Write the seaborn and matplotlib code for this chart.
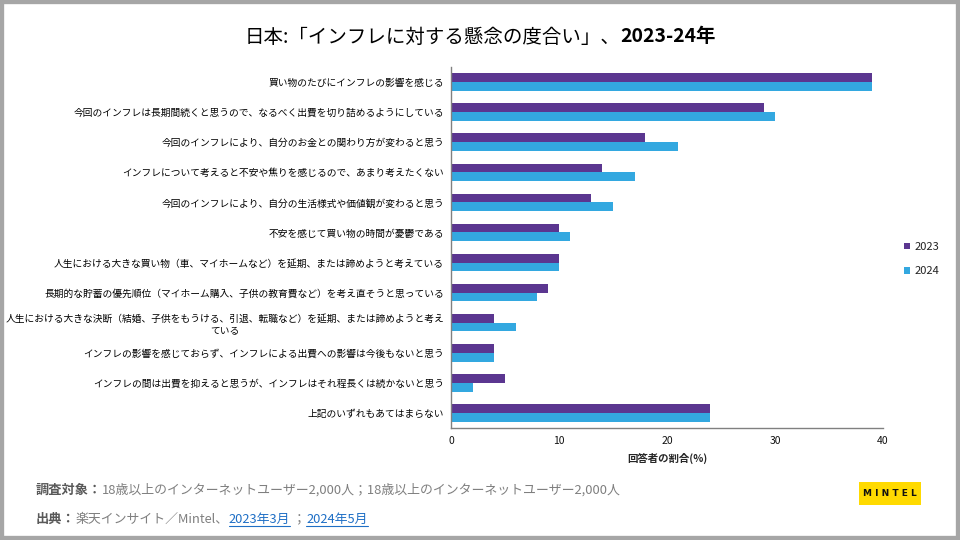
import numpy as np
import pandas as pd
import matplotlib
matplotlib.use("Agg")
import matplotlib.pyplot as plt
from matplotlib.patches import Rectangle
from matplotlib.lines import Line2D
import seaborn as sns

categories = [
    "買い物のたびにインフレの影響を感じる",
    "今回のインフレは長期間続くと思うので、なるべく出費を切り詰めるようにしている",
    "今回のインフレにより、自分のお金との関わり方が変わると思う",
    "インフレについて考えると不安や焦りを感じるので、あまり考えたくない",
    "今回のインフレにより、自分の生活様式や価値観が変わると思う",
    "不安を感じて買い物の時間が憂鬱である",
    "人生における大きな買い物（車、マイホームなど）を延期、または諦めようと考えている",
    "長期的な貯蓄の優先順位（マイホーム購入、子供の教育費など）を考え直そうと思っている",
    "人生における大きな決断（結婚、子供をもうける、引退、転職など）を延期、または諦めようと考え\nている",
    "インフレの影響を感じておらず、インフレによる出費への影響は今後もないと思う",
    "インフレの間は出費を抑えると思うが、インフレはそれ程長くは続かないと思う",
    "上記のいずれもあてはまらない",
]
values_2023 = [39, 29, 18, 14, 13, 10, 10, 9, 4, 4, 5, 24]
values_2024 = [39, 30, 21, 17, 15, 11, 10, 8, 6, 4, 2, 24]
years = ["2023", "2024"]
x_ticks = [0, 10, 20, 30, 40]

title_regular = "日本:「インフレに対する懸念の度合い」、"
title_bold = "2023-24年"
x_label = "回答者の割合(%)"
footer1_bold = "調査対象："
footer1_text = "18歳以上のインターネットユーザー2,000人；18歳以上のインターネットユーザー2,000人"
footer2_bold = "出典："
footer2_text = "楽天インサイト／Mintel、"
footer2_link1 = "2023年3月"
footer2_sep = " ；"
footer2_link2 = "2024年5月"

df = pd.DataFrame({
    "category": categories * 2,
    "value": values_2023 + values_2024,
    "year": [years[0]] * len(categories) + [years[1]] * len(categories),
})

sns.set_style("white")
plt.rcParams["font.family"] = ["Noto Sans CJK JP", "DejaVu Sans"]

fig = plt.figure(figsize=(9.6, 5.4), dpi=100)
fig.patch.set_facecolor("white")
ax = fig.add_axes([451 / 960, 1 - 428 / 540, (883 - 451) / 960, (428 - 67) / 540])

palette = {"2023": "#5B3690", "2024": "#33A8E0"}
sns.barplot(data=df, y="category", x="value", hue="year", orient="h",
            palette=palette, width=0.58, saturation=1, ax=ax, legend=True,
            linewidth=0, edgecolor="none")

n = len(categories)
ax.set_xlim(0, 40)
ax.set_ylim(n - 0.5, -0.5)
ax.set_xticks(x_ticks)
ax.set_xticklabels([str(t) for t in x_ticks], fontsize=7.5, color="#111111")
ax.set_yticks(np.arange(n))
ax.set_yticklabels(categories, fontsize=7, color="#000000")
for lab in ax.get_yticklabels():
    lab.set_multialignment("center")
ax.set_yticks(np.arange(-0.5, n, 1), minor=True)
ax.tick_params(axis="y", which="major", length=0, pad=5)
ax.tick_params(axis="y", which="minor", length=4, width=0.8, color="#808080", direction="out")
ax.tick_params(axis="x", which="major", length=3, width=0.8, color="#808080", direction="out", pad=3)
ax.set_xlabel(x_label, fontsize=7.5, fontweight="bold", labelpad=5)
ax.set_ylabel("")
for side in ["top", "right"]:
    ax.spines[side].set_visible(False)
for side in ["left", "bottom"]:
    ax.spines[side].set_color("#808080")
    ax.spines[side].set_linewidth(1.0)
ax.grid(False)

handles, labels = ax.get_legend_handles_labels()
ax.legend(handles, labels, loc="center left", bbox_to_anchor=(894 / 960, 1 - 259 / 540),
          bbox_transform=fig.transFigure, frameon=False, handlelength=0.55, handleheight=0.55,
          labelspacing=1.3, handletextpad=0.4, fontsize=8, labelcolor="#222222")

fig.canvas.draw()
renderer = fig.canvas.get_renderer()
W, H = fig.bbox.width, fig.bbox.height


def width_of(t):
    return t.get_window_extent(renderer).width / W


# Title
t1 = fig.text(0, 1 - 37 / 540, title_regular, fontsize=14, va="center", ha="left", color="#000000")
t2 = fig.text(0, 1 - 37 / 540, title_bold, fontsize=14, va="center", ha="left",
              fontweight="bold", color="#000000")
w1, w2 = width_of(t1), width_of(t2)
x0 = 0.5 - (w1 + w2) / 2
t1.set_x(x0)
t2.set_x(x0 + w1)


def seq(x, y, parts):
    out = []
    for s, kw in parts:
        t = fig.text(x, y, s, va="baseline", ha="left", **kw)
        bb = t.get_window_extent(renderer)
        out.append((t, x, bb))
        x = bb.x1 / W
    return out


bold_kw = dict(fontsize=9.5, fontweight="bold", color="#595959")
reg_kw = dict(fontsize=9.3, color="#7F7F7F")
link_kw = dict(fontsize=9.3, color="#1F6FC5")

y1 = 1 - 494 / 540
seq(36 / 960, y1, [(footer1_bold, bold_kw), (footer1_text, reg_kw)])

y2 = 1 - 523 / 540
items = seq(36 / 960, y2, [(footer2_bold, bold_kw), (footer2_text, reg_kw),
                            (footer2_link1, link_kw), (footer2_sep, reg_kw),
                            (footer2_link2, link_kw)])
for idx in (2, 4):
    t, x, bb = items[idx]
    yy = y2 - 2.5 / H
    fig.add_artist(Line2D([bb.x0 / W, bb.x1 / W], [yy, yy], transform=fig.transFigure,
                          color="#1F6FC5", linewidth=0.8))

# MINTEL logo
fig.add_artist(Rectangle((859 / 960, 1 - 505 / 540), 62 / 960, 23 / 540,
                         transform=fig.transFigure, facecolor="#FFDA00", edgecolor="none"))
fig.text(890 / 960, 1 - 493.5 / 540, "M I N T E L", fontsize=6.5, fontweight="bold",
         family="DejaVu Sans", ha="center", va="center", color="#111111")

# Gray border
fig.add_artist(Rectangle((0, 0), 1, 1, transform=fig.transFigure, fill=False,
                         edgecolor="#A6A6A6", linewidth=6))

fig.savefig("out.png", dpi=100, facecolor="white")
